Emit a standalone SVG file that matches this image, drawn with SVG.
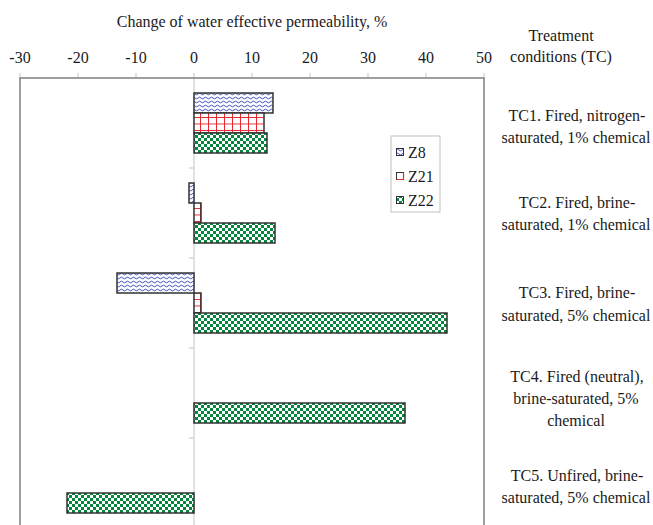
<svg xmlns="http://www.w3.org/2000/svg" width="653" height="525" viewBox="0 0 653 525">
<style>
text{font-family:"Liberation Serif","DejaVu Serif",serif;font-size:16px;fill:#1a1a1a}
.tick{text-anchor:middle}
.tc{text-anchor:middle}
.bar{stroke:#333;stroke-width:1.5}
.z8{fill:url(#pz8)}
.z21{fill:url(#pz21)}
.z22{fill:url(#pz22)}
.frame{stroke:#808080;stroke-width:1.5;fill:none}
.grid{stroke:#c4c4c4;stroke-width:1;fill:none}
</style>
<defs>
<pattern id="pz8" patternUnits="userSpaceOnUse" width="6" height="4">
<rect width="6" height="4" fill="#fff"/>
<path d="M0,2 Q1.5,0.3 3,2 T6,2" fill="none" stroke="#3f52c0" stroke-width="1"/>
</pattern>
<pattern id="pz21" patternUnits="userSpaceOnUse" width="8" height="6.5">
<rect width="8" height="6.5" fill="#fff"/>
<path d="M0.5,0V6.5M0,0.5H8" fill="none" stroke="#e8282c" stroke-width="1"/>
</pattern>
<pattern id="pz22" patternUnits="userSpaceOnUse" width="6" height="6">
<rect width="6" height="6" fill="#fff"/>
<rect width="3" height="3" fill="#06853f"/>
<rect x="3" y="3" width="3" height="3" fill="#06853f"/>
</pattern>
</defs>

<g id="axis-title">
<text x="252" y="27" text-anchor="middle">Change of water effective permeability, %</text>
</g>
<g id="tick-labels">
<text class="tick" x="20" y="63">-30</text>
<text class="tick" x="78" y="63">-20</text>
<text class="tick" x="136" y="63">-10</text>
<text class="tick" x="194" y="63">0</text>
<text class="tick" x="252" y="63">10</text>
<text class="tick" x="310" y="63">20</text>
<text class="tick" x="368" y="63">30</text>
<text class="tick" x="426" y="63">40</text>
<text class="tick" x="484" y="63">50</text>
</g>
<g id="tc-header">
<text class="tc" x="561" y="41">Treatment</text>
<text class="tc" x="561" y="62">conditions (TC)</text>
</g>

<g id="axes">
<path class="grid" d="M20,73V78M78,73V78M136,73V78M194,73V78M252,73V78M310,73V78M368,73V78M426,73V78M484,73V78"/>
<path class="grid" d="M194,78V525M189,168H194M189,258H194M189,348H194M189,438H194"/>
<path class="frame" d="M20,525V78H484V525"/>
</g>

<g id="bars">
<g id="tc1-bars">
<rect class="bar z8" x="194" y="93" width="79" height="20"/>
<rect class="bar z21" x="194" y="113" width="70" height="20"/>
<rect class="bar z22" x="194" y="133" width="73" height="20"/>
</g>
<g id="tc2-bars">
<rect class="bar z8" x="189" y="183" width="5" height="20"/>
<rect class="bar z21" x="194" y="203" width="7" height="20"/>
<rect class="bar z22" x="194" y="223" width="81" height="20"/>
</g>
<g id="tc3-bars">
<rect class="bar z8" x="117" y="273" width="77" height="20"/>
<rect class="bar z21" x="194" y="293" width="7" height="20"/>
<rect class="bar z22" x="194" y="313" width="253" height="20"/>
</g>
<g id="tc4-bars">
<rect class="bar z22" x="194" y="403" width="211" height="20"/>
</g>
<g id="tc5-bars">
<rect class="bar z22" x="67" y="493" width="127" height="20"/>
</g>
</g>

<g id="legend">
<rect x="391" y="136" width="49" height="76" fill="#fff" stroke="#c0c0c0" stroke-width="1"/>
<rect x="396.5" y="148.5" width="7" height="7" class="z8" stroke="#333" stroke-width="1"/>
<text x="408" y="158">Z8</text>
<rect x="396.5" y="172.5" width="7" height="7" fill="#fff" stroke="#333" stroke-width="1"/>
<path d="M403.5,172.5V179.5H396.5" fill="none" stroke="#e8282c" stroke-width="1.2"/>
<text x="408" y="182">Z21</text>
<rect x="396.5" y="196.5" width="7" height="7" class="z22" stroke="#333" stroke-width="1"/>
<text x="408" y="206">Z22</text>
</g>

<g id="tc1"><text class="tc" x="577" y="121">TC1. Fired, nitrogen-</text><text class="tc" x="576" y="143">saturated, 1% chemical</text></g>
<g id="tc2"><text class="tc" x="577" y="208">TC2. Fired, brine-</text><text class="tc" x="576" y="230">saturated, 1% chemical</text></g>
<g id="tc3"><text class="tc" x="577" y="298">TC3. Fired, brine-</text><text class="tc" x="576" y="321">saturated, 5% chemical</text></g>
<g id="tc4"><text class="tc" x="577" y="382">TC4. Fired (neutral),</text><text class="tc" x="576" y="404">brine-saturated, 5%</text><text class="tc" x="576" y="426">chemical</text></g>
<g id="tc5"><text class="tc" x="577" y="481">TC5. Unfired, brine-</text><text class="tc" x="576" y="503">saturated, 5% chemical</text></g>
</svg>
